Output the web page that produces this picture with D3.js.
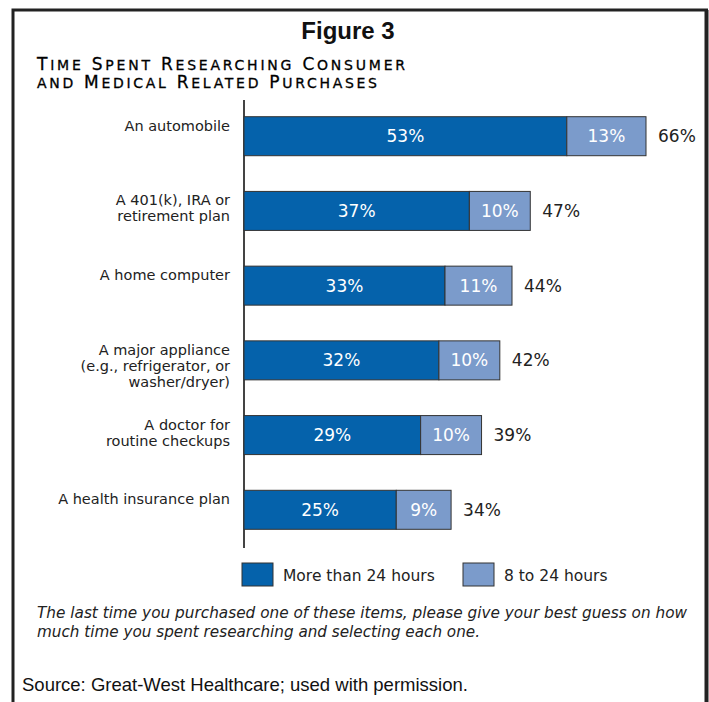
<!DOCTYPE html>
<html><head><meta charset="utf-8">
<script src="https://cdn.jsdelivr.net/npm/d3@7"></script>
<style>
html,body{margin:0;padding:0;background:#fff;}
svg{display:block;}
</style></head>
<body>
<script>
const categories = [
  ["An automobile"],
  ["A 401(k), IRA or", "retirement plan"],
  ["A home computer"],
  ["A major appliance", "(e.g., refrigerator, or", "washer/dryer)"],
  ["A doctor for", "routine checkups"],
  ["A health insurance plan"]
];
const moreThan24 = [53, 37, 33, 32, 29, 25];
const eightTo24 = [13, 10, 11, 10, 10, 9];
const totals = [66, 47, 44, 42, 39, 34];
const seriesNames = ["More than 24 hours", "8 to 24 hours"];

const W = 709, H = 702;
const dark = "#0562ab", light = "#7b9bcb";
const labelFont = "'DejaVu Sans', 'Noto Sans', sans-serif";

const svg = d3.select("body").append("svg").attr("width", W).attr("height", H);

// frame
svg.append("path").attr("d", `M13,${H+5} V10 H706.5 V${H+5}`)
  .attr("fill", "none").attr("stroke", "#222").attr("stroke-width", 3);
svg.append("line").attr("x1",706.5).attr("x2",706.5).attr("y1",10).attr("y2",H)
  .attr("stroke","#222").attr("stroke-width",4);

// title
svg.append("text").attr("x", 348).attr("y", 39).attr("text-anchor", "middle")
  .attr("font-family", "'Liberation Sans', Arial, sans-serif").attr("font-weight", "bold")
  .attr("font-size", 24).attr("fill", "#111").text("Figure 3");

// subtitle in manual small caps
const sub = ["Time Spent Researching Consumer", "and Medical Related Purchases"];
const subW = [368, 340];
sub.forEach((s, i) => {
  const t = svg.append("text").attr("x", 37).attr("y", 70 + i * 18)
    .attr("font-family", "'DejaVu Sans', sans-serif").attr("fill", "#000")
    .attr("stroke", "#000").attr("stroke-width", 0.3)
    .attr("textLength", subW[i]).attr("lengthAdjust", "spacing");
  s.split(" ").forEach((w, k) => {
    const first = w[0], rest = w.slice(1);
    const big = first === first.toUpperCase();
    t.append("tspan").attr("font-size", big ? 17 : 14).text((k ? " " : "") + first.toUpperCase());
    t.append("tspan").attr("font-size", 14).text(rest.toUpperCase());
  });
});

const idx = d3.range(categories.length);
const x = d3.scaleLinear().domain([0, 66]).range([244, 646]);
const y = d3.scaleBand().domain(idx).range([116.7, 529.3]).paddingInner(0.478).paddingOuter(0);

// axis line
svg.append("line").attr("x1", x(0)).attr("x2", x(0)).attr("y1", 100).attr("y2", 548)
  .attr("stroke", "#444").attr("stroke-width", 2);

const g = svg.append("g");
g.selectAll("rect.d").data(idx).join("rect").attr("class", "d")
  .attr("x", x(0)).attr("y", i => y(i)).attr("width", i => x(moreThan24[i]) - x(0))
  .attr("height", y.bandwidth()).attr("fill", dark).attr("stroke", "#333").attr("stroke-width", 1);
g.selectAll("rect.l").data(idx).join("rect").attr("class", "l")
  .attr("x", i => x(moreThan24[i])).attr("y", i => y(i))
  .attr("width", i => x(moreThan24[i] + eightTo24[i]) - x(moreThan24[i]))
  .attr("height", y.bandwidth()).attr("fill", light).attr("stroke", "#333").attr("stroke-width", 1);

// value labels
g.selectAll("text.vd").data(idx).join("text").attr("class", "vd")
  .attr("x", i => (x(0) + x(moreThan24[i])) / 2).attr("y", i => y(i) + y.bandwidth() / 2 + 6)
  .attr("text-anchor", "middle").attr("fill", "#fff").attr("font-family", labelFont)
  .attr("font-size", 17).text(i => moreThan24[i] + "%");
g.selectAll("text.vl").data(idx).join("text").attr("class", "vl")
  .attr("x", i => (x(moreThan24[i]) + x(moreThan24[i] + eightTo24[i])) / 2)
  .attr("y", i => y(i) + y.bandwidth() / 2 + 6)
  .attr("text-anchor", "middle").attr("fill", "#fff").attr("font-family", labelFont)
  .attr("font-size", 17).text(i => eightTo24[i] + "%");
g.selectAll("text.t").data(idx).join("text").attr("class", "t")
  .attr("x", i => x(totals[i]) + 12).attr("y", i => y(i) + y.bandwidth() / 2 + 6)
  .attr("fill", "#222").attr("font-family", labelFont)
  .attr("font-size", 17).text(i => totals[i] + "%");

// category labels
idx.forEach(i => {
  const t = svg.append("text").attr("text-anchor", "end").attr("font-family", labelFont)
    .attr("font-size", 14.5).attr("fill", "#222");
  categories[i].forEach((line, k) => {
    t.append("tspan").attr("x", 230).attr("y", y(i) + 14 + k * 16).text(line);
  });
});

// legend
const leg = [{x: 242, c: dark, t: seriesNames[0]}, {x: 463, c: light, t: seriesNames[1]}];
leg.forEach(d => {
  svg.append("rect").attr("x", d.x).attr("y", 563).attr("width", 31).attr("height", 23)
    .attr("fill", d.c).attr("stroke", "#333").attr("stroke-width", 1);
  svg.append("text").attr("x", d.x + 41).attr("y", 581).attr("font-family", labelFont)
    .attr("font-size", 15.5).attr("fill", "#222").text(d.t);
});

// note
const note = ["The last time you purchased one of these items, please give your best guess on how",
  "much time you spent researching and selecting each one."];
const noteW = [650, 443];
note.forEach((s, i) => {
  svg.append("text").attr("x", 37).attr("y", 618 + i * 19).attr("font-family", labelFont)
    .attr("font-style", "italic").attr("font-size", 15.5).attr("fill", "#222")
    .attr("textLength", noteW[i]).attr("lengthAdjust", "spacingAndGlyphs").text(s);
});

svg.append("text").attr("x", 22).attr("y", 691)
  .attr("font-family", "'Liberation Sans', Arial, sans-serif").attr("font-size", 18.5)
  .attr("fill", "#111").text("Source: Great-West Healthcare; used with permission.");
</script>
</body></html>
